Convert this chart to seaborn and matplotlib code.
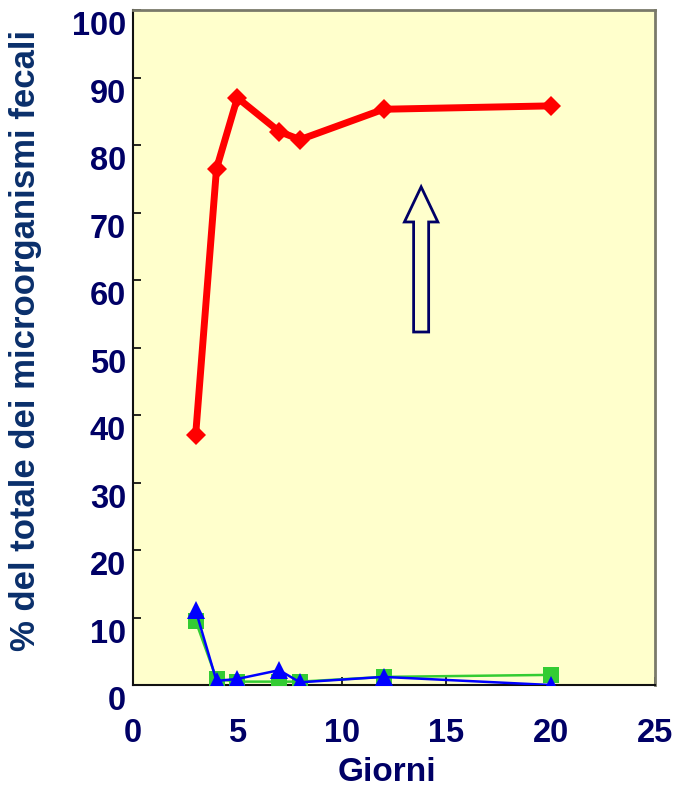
import matplotlib
matplotlib.use("Agg")
import matplotlib.pyplot as plt
import matplotlib.transforms as mtransforms
import seaborn as sns
import pandas as pd

# Days of sampling
giorni = [3, 4, 5, 7, 8, 12, 20]
# Percentage of total faecal microorganisms per group
serie_rossa = [37.0, 76.5, 87.0, 82.0, 80.8, 85.3, 85.8]
serie_verde = [9.5, 0.9, 0.5, 0.5, 0.5, 1.2, 1.5]
serie_blu = [11.1, 0.6, 0.9, 2.2, 0.4, 1.2, 0.0]

x_ticks = [0, 5, 10, 15, 20, 25]
y_ticks = [0, 10, 20, 30, 40, 50, 60, 70, 80, 90, 100]

NAVY = "#000066"
BG = "#FFFFCC"

sns.set_theme(style="white")
plt.rcParams["font.family"] = ["Liberation Sans", "DejaVu Sans"]

fig = plt.figure(figsize=(6.83, 7.90), dpi=100)
ax = fig.add_axes([0.1947, 0.1329, 0.7643, 0.8544])
ax.set_facecolor(BG)

df = pd.DataFrame({"giorni": giorni, "rossa": serie_rossa,
                   "verde": serie_verde, "blu": serie_blu})

sns.lineplot(data=df, x="giorni", y="verde", ax=ax, color="#33CC33",
             linewidth=1.8, marker="s", markersize=12,
             markeredgewidth=0, sort=False, zorder=3)
sns.lineplot(data=df, x="giorni", y="blu", ax=ax, color="#0000FF",
             linewidth=1.8, marker="^", markersize=13,
             markeredgewidth=0, sort=False, zorder=4)
sns.lineplot(data=df, x="giorni", y="rossa", ax=ax, color="#FF0000",
             linewidth=5, marker="D", markersize=10.5,
             markeredgewidth=0, sort=False, zorder=5)

# Hollow upward arrow
ax.arrow(13.8, 52.3, 0, 21.5, width=0.72, head_width=1.6,
         head_length=5.2, length_includes_head=True,
         facecolor=BG, edgecolor=NAVY, linewidth=2, zorder=2)

ax.set_xlim(0, 25)
ax.set_ylim(0, 100)
ax.set_xticks(x_ticks)
ax.set_yticks(y_ticks)
ax.set_xticklabels([str(v) for v in x_ticks])
ax.set_yticklabels([str(v) for v in y_ticks])

ax.tick_params(axis="both", direction="in", length=6, width=1.2,
               color="black", labelsize=23.5, labelcolor=NAVY)
ax.tick_params(axis="x", pad=24, top=False, bottom=True)
ax.tick_params(axis="y", pad=5, left=True, right=False)
for lab in ax.get_xticklabels() + ax.get_yticklabels():
    lab.set_fontweight("bold")

# y tick labels sit a little below their ticks
shift = mtransforms.ScaledTranslation(0, -13 / 100, fig.dpi_scale_trans)
for lab in ax.get_yticklabels():
    lab.set_transform(lab.get_transform() + shift)

ax.set_xlabel("Giorni", fontsize=24, fontweight="bold", color=NAVY)
ax.xaxis.set_label_coords(0.487, -0.106)
ax.set_ylabel("% del totale dei microorganismi fecali", fontsize=25,
              fontweight="bold", color="#0A2F6B")
ax.yaxis.set_label_coords(-0.174, 0.511)

for side in ["top", "right"]:
    ax.spines[side].set_color("#7A7A6A")
    ax.spines[side].set_linewidth(2)
for side in ["left", "bottom"]:
    ax.spines[side].set_color("#111111")
    ax.spines[side].set_linewidth(1.5)

fig.savefig("out.png", dpi=100, facecolor="white")
